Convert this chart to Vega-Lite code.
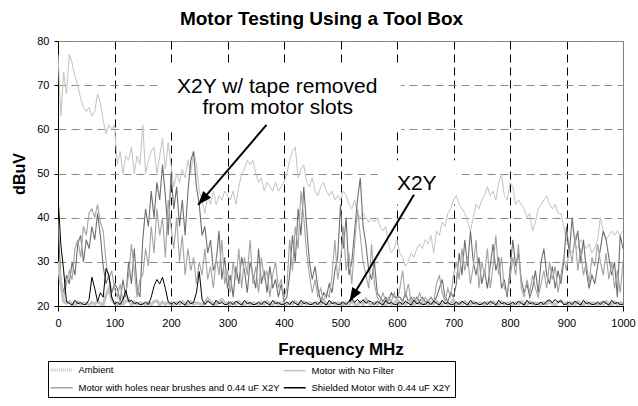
{
"$schema": "https://vega.github.io/schema/vega-lite/v6.json",
"width": 565, "height": 265,
"autosize": {"type": "none"},
"padding": {"left": 58, "top": 41, "right": 15, "bottom": 100},
"background": "white",
"title": {"text": "Motor Testing Using a Tool Box", "fontSize": 19, "fontWeight": "bold", "anchor": "middle", "frame": "bounds", "offset": 6, "dx": -2, "color": "black"},
"config": {"font": "Liberation Sans, Arial, sans-serif", "view": {"stroke": "#808080", "strokeWidth": 1},
 "axis": {"labelColor": "black", "titleColor": "black", "domainColor": "black", "tickColor": "black", "labelFontSize": 11, "labelFlush": false, "gridDash": [8,5], "gridWidth": 1, "titleFontWeight": "bold"},
 "axisX": {"tickSize": 5, "labelPadding": 6, "titleFontSize": 17, "titlePadding": 13},
 "axisY": {"tickSize": 4, "labelPadding": 5, "titleFontSize": 16, "titlePadding": 9}},
"datasets": {
"spec": [
{"f":0,"a":30,"n":77,"h":30,"t":40,"s":45},
{"f":5,"a":25,"n":63,"h":24,"t":26,"s":34},
{"f":10,"a":21,"n":73,"h":22,"t":23,"s":28},
{"f":15,"a":20.6,"n":68,"h":25,"t":27,"s":21},
{"f":20,"a":21.0,"n":77,"h":28,"t":25,"s":20.6},
{"f":25,"a":20.5,"n":75,"h":26,"t":30,"s":20.2},
{"f":30,"a":20.3,"n":72,"h":33,"t":27,"s":21.3},
{"f":35,"a":20.9,"n":70,"h":35,"t":34,"s":20.5},
{"f":40,"a":20.4,"n":67,"h":31,"t":36,"s":20.8},
{"f":45,"a":20.7,"n":65,"h":38,"t":30,"s":20.3},
{"f":50,"a":20.6,"n":64,"h":36,"t":35,"s":20.4},
{"f":55,"a":20.3,"n":65,"h":41,"t":33,"s":21.5},
{"f":60,"a":20.8,"n":63,"h":42,"t":38,"s":26.5},
{"f":65,"a":20.4,"n":64,"h":40,"t":35,"s":24},
{"f":70,"a":21.0,"n":68,"h":43,"t":41,"s":21},
{"f":75,"a":20.5,"n":66,"h":39,"t":36,"s":23},
{"f":80,"a":20.3,"n":62,"h":37,"t":29,"s":22},
{"f":85,"a":22.5,"n":59,"h":30,"t":25,"s":28.5},
{"f":90,"a":24,"n":61,"h":26,"t":27,"s":27},
{"f":95,"a":21.5,"n":60,"h":28,"t":23,"s":22},
{"f":100,"a":20.6,"n":61,"h":24,"t":25,"s":20.4},
{"f":105,"a":20.3,"n":52,"h":22,"t":24,"s":20.9},
{"f":110,"a":20.8,"n":55,"h":25,"t":21,"s":20.3},
{"f":115,"a":20.4,"n":50,"h":21,"t":26,"s":21.5},
{"f":120,"a":21.0,"n":54,"h":23,"t":22,"s":23.5},
{"f":125,"a":21.5,"n":53,"h":27,"t":30,"s":21},
{"f":130,"a":20.3,"n":56,"h":34,"t":25,"s":21.3},
{"f":135,"a":20.9,"n":50,"h":28,"t":33,"s":20.5},
{"f":140,"a":20.4,"n":54,"h":22,"t":24,"s":20.8},
{"f":145,"a":20.7,"n":52,"h":26,"t":22,"s":20.3},
{"f":150,"a":20.6,"n":61,"h":27,"t":35,"s":20.4},
{"f":155,"a":20.3,"n":50,"h":33,"t":42,"s":20.9},
{"f":160,"a":20.8,"n":53,"h":29,"t":38,"s":20.3},
{"f":165,"a":20.4,"n":55,"h":38,"t":46,"s":22},
{"f":170,"a":21.0,"n":56,"h":32,"t":40,"s":24.5},
{"f":175,"a":21.2,"n":50,"h":42,"t":48,"s":26},
{"f":180,"a":20.3,"n":54,"h":36,"t":44,"s":25},
{"f":185,"a":20.9,"n":58,"h":40,"t":52,"s":26.5},
{"f":190,"a":20.4,"n":51,"h":31,"t":45,"s":24},
{"f":195,"a":20.7,"n":57,"h":44,"t":36,"s":21},
{"f":200,"a":20.6,"n":52,"h":38,"t":50,"s":20.4},
{"f":205,"a":20.3,"n":47,"h":33,"t":42,"s":20.9},
{"f":210,"a":20.8,"n":50,"h":40,"t":47,"s":20.3},
{"f":215,"a":20.4,"n":48,"h":30,"t":38,"s":21.1},
{"f":220,"a":21.0,"n":51,"h":36,"t":44,"s":20.6},
{"f":225,"a":20.5,"n":49,"h":27,"t":36,"s":20.2},
{"f":230,"a":20.3,"n":53,"h":33,"t":46,"s":21.3},
{"f":235,"a":20.9,"n":50,"h":28,"t":53,"s":20.5},
{"f":240,"a":20.4,"n":55,"h":31,"t":55,"s":20.8},
{"f":245,"a":20.7,"n":52,"h":25,"t":47,"s":23},
{"f":250,"a":20.6,"n":46,"h":30,"t":43,"s":27.8},
{"f":255,"a":20.3,"n":44,"h":27,"t":36,"s":21.5},
{"f":260,"a":20.8,"n":41,"h":33,"t":38,"s":20.3},
{"f":265,"a":21.8,"n":45,"h":26,"t":32,"s":21.1},
{"f":270,"a":21.0,"n":43,"h":29,"t":35,"s":20.6},
{"f":275,"a":20.5,"n":46,"h":24,"t":28,"s":20.2},
{"f":280,"a":20.3,"n":43,"h":31,"t":30,"s":21.3},
{"f":285,"a":20.9,"n":45,"h":27,"t":37,"s":20.5},
{"f":290,"a":21.5,"n":44,"h":35,"t":26,"s":20.8},
{"f":295,"a":20.7,"n":46,"h":25,"t":31,"s":20.3},
{"f":300,"a":20.6,"n":45,"h":28,"t":24,"s":20.4},
{"f":305,"a":20.3,"n":44,"h":23,"t":27,"s":20.9},
{"f":310,"a":20.8,"n":46,"h":30,"t":22,"s":20.3},
{"f":315,"a":20.4,"n":43,"h":26,"t":29,"s":21.1},
{"f":320,"a":21.0,"n":47,"h":33,"t":25,"s":20.6},
{"f":325,"a":20.5,"n":50,"h":24,"t":31,"s":20.2},
{"f":330,"a":20.3,"n":51,"h":31,"t":28,"s":21.3},
{"f":335,"a":20.9,"n":53,"h":27,"t":23,"s":20.5},
{"f":340,"a":20.4,"n":52,"h":35,"t":30,"s":20.8},
{"f":345,"a":20.7,"n":53,"h":25,"t":27,"s":20.3},
{"f":350,"a":20.6,"n":50,"h":29,"t":24,"s":20.4},
{"f":355,"a":20.3,"n":48,"h":23,"t":33,"s":20.9},
{"f":360,"a":20.8,"n":49,"h":31,"t":25,"s":20.3},
{"f":365,"a":20.4,"n":46,"h":26,"t":28,"s":21.1},
{"f":370,"a":21.0,"n":48,"h":28,"t":23,"s":20.6},
{"f":375,"a":20.5,"n":47,"h":22,"t":29,"s":20.2},
{"f":380,"a":20.3,"n":46,"h":27,"t":24,"s":21.3},
{"f":385,"a":20.9,"n":48,"h":30,"t":26,"s":20.5},
{"f":390,"a":20.4,"n":46,"h":24,"t":22,"s":20.8},
{"f":395,"a":20.7,"n":47,"h":26,"t":25,"s":20.3},
{"f":400,"a":20.6,"n":48,"h":22,"t":21,"s":20.4},
{"f":405,"a":20.3,"n":50,"h":24,"t":22,"s":20.9},
{"f":410,"a":20.8,"n":53,"h":35,"t":27,"s":20.3},
{"f":415,"a":20.4,"n":55,"h":28,"t":36,"s":21.1},
{"f":420,"a":21.0,"n":56,"h":38,"t":30,"s":20.6},
{"f":425,"a":20.5,"n":49,"h":33,"t":42,"s":20.2},
{"f":430,"a":20.3,"n":51,"h":46,"t":36,"s":21.3},
{"f":435,"a":20.9,"n":52,"h":40,"t":47,"s":20.5},
{"f":440,"a":20.4,"n":48,"h":32,"t":38,"s":20.8},
{"f":445,"a":20.7,"n":47,"h":27,"t":30,"s":20.3},
{"f":450,"a":20.6,"n":49,"h":23,"t":26,"s":20.4},
{"f":455,"a":20.3,"n":46,"h":26,"t":29,"s":20.9},
{"f":460,"a":20.8,"n":45,"h":22,"t":24,"s":20.3},
{"f":465,"a":20.4,"n":47,"h":24,"t":21,"s":21.1},
{"f":470,"a":21.0,"n":48,"h":21,"t":23,"s":20.6},
{"f":475,"a":20.5,"n":46,"h":23,"t":22,"s":20.2},
{"f":480,"a":20.3,"n":45,"h":22,"t":25,"s":21.3},
{"f":485,"a":20.9,"n":46,"h":27,"t":23,"s":20.5},
{"f":490,"a":20.4,"n":44,"h":35,"t":28,"s":20.8},
{"f":495,"a":20.7,"n":45,"h":26,"t":31,"s":20.3},
{"f":500,"a":20.6,"n":44,"h":30,"t":43,"s":20.4},
{"f":505,"a":20.3,"n":46,"h":38,"t":33,"s":20.9},
{"f":510,"a":20.8,"n":45,"h":28,"t":40,"s":20.3},
{"f":515,"a":20.4,"n":43,"h":32,"t":27,"s":21.1},
{"f":520,"a":21.0,"n":42,"h":25,"t":30,"s":21.6},
{"f":525,"a":20.5,"n":44,"h":34,"t":37,"s":20.8},
{"f":530,"a":20.3,"n":41,"h":42,"t":44,"s":21.5},
{"f":535,"a":20.9,"n":40,"h":36,"t":49,"s":20.7},
{"f":540,"a":20.4,"n":41,"h":30,"t":38,"s":21.4},
{"f":545,"a":21.6,"n":40,"h":27,"t":34,"s":20.6},
{"f":550,"a":20.6,"n":39,"h":24,"t":28,"s":21.2},
{"f":555,"a":20.3,"n":40,"h":34,"t":26,"s":20.9},
{"f":560,"a":20.8,"n":39,"h":25,"t":30,"s":20.3},
{"f":565,"a":20.4,"n":40,"h":22,"t":23,"s":21.1},
{"f":570,"a":21.0,"n":38,"h":21,"t":22,"s":20.6},
{"f":575,"a":20.5,"n":37,"h":23,"t":21,"s":20.2},
{"f":580,"a":20.3,"n":38,"h":21,"t":22,"s":21.3},
{"f":585,"a":20.9,"n":34,"h":22,"t":21,"s":20.5},
{"f":590,"a":20.4,"n":32,"h":21,"t":23,"s":20.8},
{"f":595,"a":20.7,"n":33,"h":23,"t":22,"s":20.3},
{"f":600,"a":21.3,"n":35,"h":21,"t":22,"s":20.4},
{"f":605,"a":20.3,"n":32,"h":24,"t":22,"s":20.9},
{"f":610,"a":20.8,"n":31,"h":28,"t":21,"s":20.3},
{"f":615,"a":20.4,"n":29,"h":22,"t":23,"s":21.1},
{"f":620,"a":21.0,"n":30,"h":25,"t":21,"s":20.6},
{"f":625,"a":20.5,"n":32,"h":21,"t":22,"s":20.2},
{"f":630,"a":20.3,"n":31,"h":22,"t":21,"s":21.3},
{"f":635,"a":20.9,"n":33,"h":21,"t":22,"s":20.5},
{"f":640,"a":20.4,"n":34,"h":23,"t":21,"s":20.8},
{"f":645,"a":20.7,"n":33,"h":21,"t":22,"s":20.3},
{"f":650,"a":20.6,"n":35,"h":22,"t":21,"s":20.4},
{"f":655,"a":20.3,"n":34,"h":21,"t":21,"s":20.9},
{"f":660,"a":20.8,"n":36,"h":22,"t":22,"s":20.3},
{"f":665,"a":20.4,"n":32,"h":21,"t":21,"s":21.1},
{"f":670,"a":21.0,"n":37,"h":25,"t":22,"s":20.6},
{"f":675,"a":20.5,"n":36,"h":27,"t":24,"s":20.2},
{"f":680,"a":20.3,"n":39,"h":23,"t":26,"s":21.3},
{"f":685,"a":20.9,"n":38,"h":21,"t":22,"s":20.5},
{"f":690,"a":20.4,"n":41,"h":24,"t":21,"s":20.8},
{"f":695,"a":20.7,"n":42,"h":22,"t":23,"s":20.3},
{"f":700,"a":21.4,"n":44,"h":27,"t":22,"s":20.4},
{"f":705,"a":20.3,"n":45,"h":30,"t":25,"s":20.9},
{"f":710,"a":20.8,"n":43,"h":26,"t":32,"s":20.3},
{"f":715,"a":20.4,"n":42,"h":33,"t":27,"s":21.1},
{"f":720,"a":21.0,"n":41,"h":28,"t":35,"s":20.6},
{"f":725,"a":20.5,"n":39,"h":31,"t":29,"s":20.2},
{"f":730,"a":20.3,"n":37,"h":25,"t":37,"s":21.3},
{"f":735,"a":20.9,"n":40,"h":29,"t":30,"s":20.5},
{"f":740,"a":20.4,"n":43,"h":35,"t":27,"s":20.8},
{"f":745,"a":20.7,"n":42,"h":24,"t":31,"s":20.3},
{"f":750,"a":20.6,"n":44,"h":30,"t":25,"s":20.4},
{"f":755,"a":20.3,"n":45,"h":27,"t":28,"s":20.9},
{"f":760,"a":20.8,"n":47,"h":33,"t":24,"s":20.3},
{"f":765,"a":20.4,"n":45,"h":24,"t":29,"s":21.1},
{"f":770,"a":21.0,"n":46,"h":29,"t":34,"s":20.6},
{"f":775,"a":20.5,"n":44,"h":36,"t":28,"s":20.2},
{"f":780,"a":20.3,"n":48,"h":27,"t":31,"s":21.3},
{"f":785,"a":20.9,"n":50,"h":31,"t":24,"s":20.5},
{"f":790,"a":20.4,"n":45,"h":24,"t":26,"s":20.8},
{"f":795,"a":20.7,"n":44,"h":23,"t":22,"s":20.3},
{"f":800,"a":20.6,"n":48,"h":26,"t":28,"s":20.4},
{"f":805,"a":20.3,"n":47,"h":31,"t":35,"s":20.9},
{"f":810,"a":20.8,"n":43,"h":27,"t":29,"s":20.3},
{"f":815,"a":20.4,"n":44,"h":34,"t":32,"s":21.1},
{"f":820,"a":21.0,"n":43,"h":24,"t":26,"s":20.6},
{"f":825,"a":20.5,"n":42,"h":22,"t":23,"s":20.2},
{"f":830,"a":20.3,"n":40,"h":26,"t":25,"s":21.3},
{"f":835,"a":20.9,"n":41,"h":23,"t":22,"s":20.5},
{"f":840,"a":20.4,"n":37,"h":27,"t":24,"s":20.8},
{"f":845,"a":20.7,"n":39,"h":24,"t":28,"s":20.3},
{"f":850,"a":20.6,"n":42,"h":22,"t":23,"s":20.4},
{"f":855,"a":20.3,"n":43,"h":25,"t":30,"s":20.9},
{"f":860,"a":20.8,"n":44,"h":28,"t":33,"s":20.3},
{"f":865,"a":20.4,"n":45,"h":24,"t":27,"s":21.1},
{"f":870,"a":21.0,"n":43,"h":30,"t":25,"s":21.4},
{"f":875,"a":20.5,"n":42,"h":26,"t":29,"s":20.7},
{"f":880,"a":20.3,"n":43,"h":29,"t":24,"s":21.5},
{"f":885,"a":20.9,"n":41,"h":23,"t":28,"s":20.8},
{"f":890,"a":21.2,"n":41,"h":27,"t":25,"s":21.2},
{"f":895,"a":20.7,"n":38,"h":31,"t":30,"s":20.3},
{"f":900,"a":20.6,"n":35,"h":28,"t":38,"s":20.4},
{"f":905,"a":20.3,"n":33,"h":33,"t":32,"s":20.9},
{"f":910,"a":20.8,"n":32,"h":30,"t":40,"s":20.3},
{"f":915,"a":20.4,"n":34,"h":36,"t":34,"s":21.1},
{"f":920,"a":21.0,"n":33,"h":28,"t":37,"s":20.6},
{"f":925,"a":20.5,"n":35,"h":33,"t":30,"s":20.2},
{"f":930,"a":20.3,"n":34,"h":27,"t":35,"s":21.3},
{"f":935,"a":20.9,"n":33,"h":30,"t":28,"s":20.5},
{"f":940,"a":20.4,"n":34,"h":25,"t":24,"s":20.8},
{"f":945,"a":20.7,"n":32,"h":31,"t":27,"s":20.3},
{"f":950,"a":20.6,"n":33,"h":29,"t":25,"s":20.4},
{"f":955,"a":20.3,"n":35,"h":34,"t":29,"s":20.9},
{"f":960,"a":20.8,"n":40,"h":30,"t":33,"s":20.3},
{"f":965,"a":20.4,"n":37,"h":27,"t":37,"s":21.1},
{"f":970,"a":21.0,"n":35,"h":32,"t":35,"s":20.6},
{"f":975,"a":20.5,"n":36,"h":26,"t":31,"s":20.2},
{"f":980,"a":20.3,"n":37,"h":30,"t":27,"s":21.3},
{"f":985,"a":20.9,"n":36,"h":24,"t":30,"s":20.5},
{"f":990,"a":20.4,"n":37,"h":28,"t":22,"s":20.8},
{"f":995,"a":20.7,"n":36,"h":23,"t":36,"s":20.3},
{"f":1000,"a":20.6,"n":37,"h":30,"t":33,"s":20.4}
],
"boxes": [
{"x1":181,"x2":607,"y1":59.8,"y2":74.3},
{"x1":566,"x2":704,"y1":43,"y2":53}
],
"notes": [
{"x":388,"y":69.6,"label":"X2Y w/ tape removed"},
{"x":389,"y":64.8,"label":"from motor slots"},
{"x":635,"y":47.7,"label":"X2Y"}
],
"arrows": [
{"x":369,"y":61,"x2":248,"y2":42.9,"angle":220.6},
{"x":630,"y":45.2,"x2":516,"y2":21,"angle":211}
]
},
"layer": [
{"data": {"name": "boxes"}, "mark": {"type": "rect", "fill": "white"},
 "encoding": {
  "x": {"field": "x1", "type": "quantitative", "title": "Frequency MHz", "scale": {"domain": [0,1000], "nice": false, "zero": false},
   "axis": {"title": "Frequency MHz", "format": "d", "values": [0,100,200,300,400,500,600,700,800,900,1000], "grid": true, "gridColor": "black",
    "gridOpacity": {"condition": {"test": "datum.value === 0 || datum.value === 1000", "value": 0}, "value": 1}}},
  "x2": {"field": "x2"},
  "y": {"field": "y1", "type": "quantitative", "title": "dBuV", "scale": {"domain": [20,80], "nice": false, "zero": false},
   "axis": {"title": "dBuV", "values": [20,25,30,35,40,45,50,55,60,65,70,75,80], "grid": true,
    "gridColor": {"condition": {"test": "datum.value % 10 === 0", "value": "#8a8a8a"}, "value": "#bdbdbd"},
    "tickOpacity": {"condition": {"test": "datum.value % 10 === 0", "value": 1}, "value": 0},
    "labelExpr": "datum.value % 10 === 0 ? datum.label : ''"}},
  "y2": {"field": "y2"}}},
{"data": {"name": "spec"}, "mark": {"type": "line", "strokeWidth": 1, "clip": true},
 "encoding": {
  "x": {"field": "f", "type": "quantitative", "title": "Frequency MHz", "scale": {"domain": [0,1000], "nice": false, "zero": false}},
  "y": {"field": "n", "type": "quantitative", "title": "dBuV", "scale": {"domain": [20,80], "nice": false, "zero": false}},
  "color": {"datum": "Motor  with No Filter", "type": "nominal",
   "scale": {"domain": ["Ambient", "Motor  with No Filter", "Motor with holes near brushes and 0.44 uF X2Y", "Shielded Motor with 0.44 uF X2Y"], "range": ["#c4c4c4", "#c2c2c2", "#a3a3a3", "#000000"]},
   "legend": {"title": null, "orient": "none", "legendX": -10, "legendY": 320, "columns": 2, "direction": "horizontal", "symbolType": "M-2.2,0H2.2", "symbolOffset": 5, "symbolStrokeWidth": 1.5,
    "labelFontSize": 9.5, "labelColor": "black", "labelOffset": 12, "columnPadding": 0, "rowPadding": 6, "padding": 4, "strokeColor": "black", "fillColor": "white", "gridAlign": "all", "labelLimit": 300,
    "encode": {"symbols": {"update": {"strokeDash": {"signal": "datum.value === 'Ambient' ? [1,1] : null"}, "strokeWidth": {"signal": "datum.value === 'Ambient' ? 3 : 1.5"}}}}}}}},
{"data": {"name": "spec"}, "mark": {"type": "line", "strokeWidth": 1.1, "color": "#6e6e6e", "clip": true},
 "encoding": {
  "x": {"field": "f", "type": "quantitative", "title": "Frequency MHz", "scale": {"domain": [0,1000], "nice": false, "zero": false}},
  "y": {"field": "t", "type": "quantitative", "title": "dBuV", "scale": {"domain": [20,80], "nice": false, "zero": false}}}},
{"data": {"name": "spec"}, "mark": {"type": "line", "strokeWidth": 1.1, "clip": true},
 "encoding": {
  "x": {"field": "f", "type": "quantitative", "title": "Frequency MHz", "scale": {"domain": [0,1000], "nice": false, "zero": false}},
  "y": {"field": "h", "type": "quantitative", "title": "dBuV", "scale": {"domain": [20,80], "nice": false, "zero": false}},
  "color": {"datum": "Motor with holes near brushes and 0.44 uF X2Y", "type": "nominal"}}},
{"data": {"name": "spec"}, "mark": {"type": "line", "strokeWidth": 3, "clip": true},
 "encoding": {
  "x": {"field": "f", "type": "quantitative", "title": "Frequency MHz", "scale": {"domain": [0,1000], "nice": false, "zero": false}},
  "y": {"field": "a", "type": "quantitative", "title": "dBuV", "scale": {"domain": [20,80], "nice": false, "zero": false}},
  "color": {"datum": "Ambient", "type": "nominal"}}},
{"data": {"name": "spec"}, "mark": {"type": "line", "strokeWidth": 1, "clip": true},
 "encoding": {
  "x": {"field": "f", "type": "quantitative", "title": "Frequency MHz", "scale": {"domain": [0,1000], "nice": false, "zero": false}},
  "y": {"field": "s", "type": "quantitative", "title": "dBuV", "scale": {"domain": [20,80], "nice": false, "zero": false}},
  "color": {"datum": "Shielded Motor with 0.44 uF X2Y", "type": "nominal"}}},
{"data": {"name": "arrows"}, "mark": {"type": "rule", "color": "black", "strokeWidth": 2},
 "encoding": {
  "x": {"field": "x", "type": "quantitative", "title": "Frequency MHz", "scale": {"domain": [0,1000], "nice": false, "zero": false}},
  "x2": {"field": "x2"},
  "y": {"field": "y", "type": "quantitative", "title": "dBuV", "scale": {"domain": [20,80], "nice": false, "zero": false}},
  "y2": {"field": "y2"}}},
{"data": {"name": "arrows"}, "mark": {"type": "point", "shape": "M0,0L-0.6,1.6L0.6,1.6Z", "filled": true, "color": "black", "size": 300, "opacity": 1, "strokeWidth": 0},
 "encoding": {
  "x": {"field": "x2", "type": "quantitative", "title": "Frequency MHz", "scale": {"domain": [0,1000], "nice": false, "zero": false}},
  "y": {"field": "y2", "type": "quantitative", "title": "dBuV", "scale": {"domain": [20,80], "nice": false, "zero": false}},
  "angle": {"field": "angle", "type": "quantitative", "scale": null}}},
{"data": {"name": "notes"}, "mark": {"type": "text", "fontSize": 21, "color": "black", "align": "center", "baseline": "middle"},
 "encoding": {
  "x": {"field": "x", "type": "quantitative", "title": "Frequency MHz", "scale": {"domain": [0,1000], "nice": false, "zero": false}},
  "y": {"field": "y", "type": "quantitative", "title": "dBuV", "scale": {"domain": [20,80], "nice": false, "zero": false}},
  "text": {"field": "label"}}}
]
}
